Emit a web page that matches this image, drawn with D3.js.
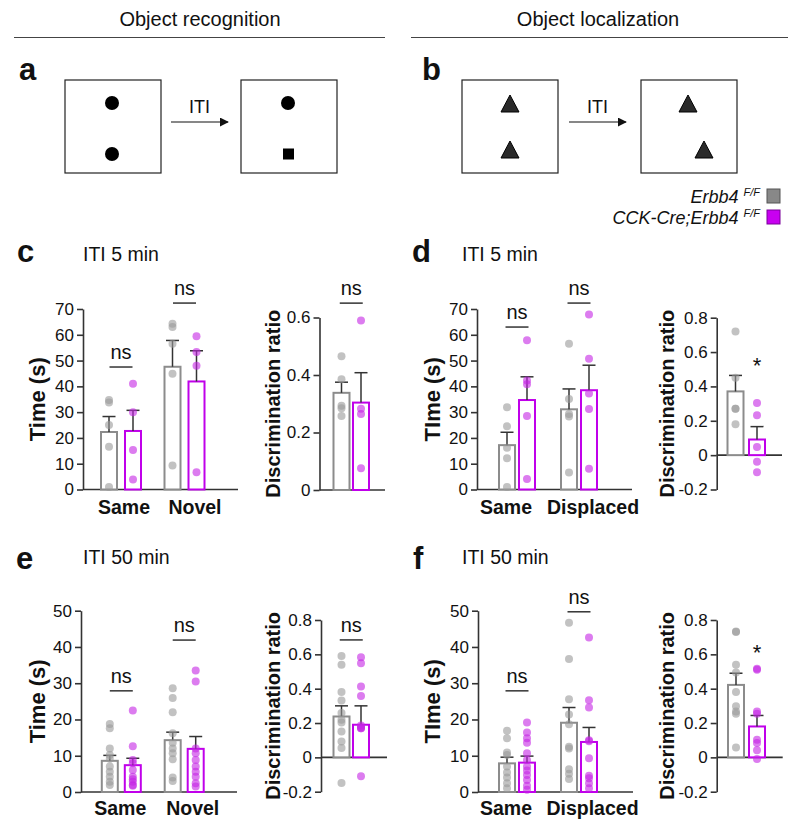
<!DOCTYPE html>
<html>
<head>
<meta charset="utf-8">
<script src="https://cdn.jsdelivr.net/npm/d3@7"></script>
<style>
  body { margin: 0; background: #fff; }
  svg text { font-family: "Liberation Sans", Arial, Helvetica, sans-serif; }
</style>
</head>
<body>
<svg id="fig" width="800" height="830"></svg>
<script>
// ---- data ----
// group order: [Erbb4 F/F (ctrl), CCK-Cre;Erbb4 F/F (cko)]
var catsRecog = ["Same", "Novel"];
var catsLocal = ["Same", "Displaced"];
var legendLabels = ["Erbb4", "CCK-Cre;Erbb4"];

var timeTicks70 = [0, 10, 20, 30, 40, 50, 60, 70];
var timeTicks50 = [0, 10, 20, 30, 40, 50];
var ratioTicks06 = [0, 0.2, 0.4, 0.6];
var ratioTicks08 = [-0.2, 0, 0.2, 0.4, 0.6, 0.8];

// c: object recognition, ITI 5 min
var cTimeCtrl = [[34.7, 33.7, 25, 16.6, 1], [64.3, 63, 56.5, 44.9, 9.3]];
var cTimeCko  = [[41, 30, 15.3, 3.9], [59.4, 53.3, 48, 6.7]];
var cTimeMean = [[22.3, 47.6], [22.7, 41.9]];
var cTimeSem  = [[6.0, 10.2], [8.0, 11.9]];
var cTimeSig  = ["ns", "ns"];
var cTimeSigY = [47.5, 72.3];
var cRatioCtrl = [0.465, 0.385, 0.293, 0.284, 0.257];
var cRatioCko  = [0.59, 0.283, 0.264, 0.076];
var cRatioMean = [0.338, 0.304];
var cRatioSem  = [0.037, 0.104];

// d: object localization, ITI 5 min
var dTimeCtrl = [[31.9, 24.5, 16.2, 12.1, 1], [56.5, 35.1, 29.3, 28.3, 6.6]];
var dTimeCko  = [[57.9, 42.3, 40.8, 28.5, 4.1], [67.9, 50.7, 37.2, 31.2, 8]];
var dTimeMean = [[17.2, 31.1], [34.7, 38.5]];
var dTimeSem  = [[5.0, 7.9], [9.0, 9.7]];
var dTimeSig  = ["ns", "ns"];
var dTimeSigY = [63, 72.3];
var dRatioCtrl = [0.72, 0.45, 0.27, 0.27, 0.18];
var dRatioCko  = [0.303, 0.232, 0.048, -0.039, -0.099];
var dRatioMean = [0.371, 0.091];
var dRatioSem  = [0.093, 0.075];

// e: object recognition, ITI 50 min
var eTimeCtrl = [[18.75, 17.6, 12, 10.2, 9.2, 7, 5.6, 4.2, 2.8, 1.9], [28.6, 25.9, 22, 16.2, 13.6, 12, 10.7, 9, 4, 3]];
var eTimeCko  = [[22.5, 12.6, 8.8, 7.9, 6.1, 4.2, 3.5, 2.8, 1.9, 1.7], [33.5, 30.5, 12, 10.7, 8.8, 7, 5.6, 4.2, 2.4, 1.5]];
var eTimeMean = [[8.6, 14.3], [7.4, 11.9]];
var eTimeSem  = [[1.5, 2.2], [1.9, 3.4]];
var eTimeSig  = ["ns", "ns"];
var eTimeSigY = [27.9, 41.9];
var eRatioCtrl = [0.59, 0.539, 0.38, 0.331, 0.258, 0.219, 0.203, 0.151, 0.093, 0.054, -0.149];
var eRatioCko  = [0.583, 0.548, 0.413, 0.358, 0.186, 0.17, 0.175, 0.17, -0.11];
var eRatioMean = [0.238, 0.19];
var eRatioSem  = [0.062, 0.11];

// f: object localization, ITI 50 min
var fTimeCtrl = [[16.9, 14.8, 10.9, 10.2, 7, 5.4, 4, 2.4, 1], [46.7, 36.7, 25.6, 21.4, 18.7, 12.5, 12, 6.3, 5, 3.6]];
var fTimeCko  = [[19.2, 16.4, 14.8, 13.6, 10.7, 8.8, 7, 5.9, 4.7, 3.3, 1.7, 0.6], [42.6, 25.3, 23.3, 14.3, 14, 9.3, 4.5, 3.8, 2.4, 1]];
var fTimeMean = [[7.9, 19.1], [8.1, 13.8]];
var fTimeSem  = [[1.7, 4.2], [1.8, 4.0]];
var fTimeSig  = ["ns", "ns"];
var fTimeSigY = [27.9, 49.7];
var fRatioCtrl = [0.733, 0.73, 0.539, 0.494, 0.38, 0.297, 0.267, 0.254, 0.058];
var fRatioCko  = [0.516, 0.51, 0.267, 0.254, 0.103, 0.083, 0.041, -0.01];
var fRatioMean = [0.422, 0.18];
var fRatioSem  = [0.068, 0.064];

// ---- styles ----
var barStroke = ["#8c8c8c", "#c000ea"];
var dotFill = ["#9a9a9a", "#c424e4"];
var ink = "#333";
var bw = 16;

var svg = d3.select("#fig");

function fmt(d) { return String(Math.round(d * 10) / 10); }

function styleAxis(sel) {
  sel.select(".domain").attr("stroke", ink).attr("stroke-width", 1.6);
  sel.selectAll(".tick line").attr("stroke", ink).attr("stroke-width", 1.6);
  sel.selectAll(".tick text").attr("font-size", 17).attr("fill", "#111")
    .attr("font-family", '"Liberation Sans", Arial, sans-serif');
}

function drawBars(g, cx, y, mean, sem, pts, k) {
  g.append("rect")
    .attr("x", cx - bw / 2).attr("y", y(mean))
    .attr("width", bw).attr("height", y(0) - y(mean))
    .attr("fill", "#fff").attr("stroke", barStroke[k]).attr("stroke-width", 2);
  g.append("line").attr("x1", cx).attr("x2", cx)
    .attr("y1", y(mean)).attr("y2", y(mean + sem))
    .attr("stroke", ink).attr("stroke-width", 1.5);
  g.append("line").attr("x1", cx - 6.5).attr("x2", cx + 6.5)
    .attr("y1", y(mean + sem)).attr("y2", y(mean + sem))
    .attr("stroke", ink).attr("stroke-width", 1.5);
  g.selectAll(null).data(pts).enter().append("circle")
    .attr("cx", cx).attr("cy", function(d) { return y(d); })
    .attr("r", 4).attr("fill", dotFill[k]).attr("opacity", 0.6);
}

function sigMark(g, cx, yy, txt, half) {
  if (txt === "ns") {
    g.append("line").attr("x1", cx - half).attr("x2", cx + half)
      .attr("y1", yy).attr("y2", yy).attr("stroke", ink).attr("stroke-width", 1.5);
    g.append("text").attr("x", cx).attr("y", yy - 8).attr("text-anchor", "middle")
      .attr("font-size", 20).attr("fill", "#111").text(txt);
  } else {
    g.append("text").attr("x", cx).attr("y", yy + 10).attr("text-anchor", "middle")
      .attr("font-size", 22).attr("fill", "#111").text(txt);
  }
}

function yLabel(g, x, y, txt, size) {
  g.append("text").attr("transform", "translate(" + x + "," + y + ") rotate(-90)")
    .attr("text-anchor", "middle").attr("font-size", size).attr("font-weight", "bold")
    .attr("fill", "#111").text(txt);
}

function drawTime(p) {
  var g = svg.append("g");
  var y = d3.scaleLinear().domain([0, p.ymax]).range([p.yBot, p.yTop]);
  var x = d3.scalePoint().domain(p.cats).range(p.centers);
  g.append("g").attr("transform", "translate(" + p.axisX + ",0)")
    .call(d3.axisLeft(y).tickValues(p.ticks).tickSize(6).tickSizeOuter(0).tickPadding(3).tickFormat(fmt))
    .call(styleAxis);
  g.append("line").attr("x1", p.axisX).attr("x2", p.axisEnd)
    .attr("y1", y(0)).attr("y2", y(0)).attr("stroke", ink).attr("stroke-width", 1.6);
  p.cats.forEach(function(cat, i) {
    [p.ctrl, p.cko].forEach(function(series, k) {
      var cx = x(cat) + (k === 0 ? -p.dx : p.dx);
      drawBars(g, cx, y, p.mean[k][i], p.sem[k][i], series[i], k);
    });
    sigMark(g, x(cat), y(p.sigY[i]), p.sig[i], 11.5);
    g.append("text").attr("x", x(cat) + p.catShift[i]).attr("y", p.catY).attr("text-anchor", "middle")
      .attr("font-size", 19.5).attr("font-weight", "bold").attr("fill", "#111").text(cat);
  });
  yLabel(g, p.labelX, (p.yTop + p.yBot) / 2, p.label, 22);
}

function drawRatio(p) {
  var g = svg.append("g");
  var y = d3.scaleLinear().domain(p.domain).range([p.yBot, p.yTop]);
  g.append("g").attr("transform", "translate(" + p.axisX + ",0)")
    .call(d3.axisLeft(y).tickValues(p.ticks).tickSize(6).tickSizeOuter(0).tickPadding(3).tickFormat(fmt))
    .call(styleAxis);
  g.append("line").attr("x1", p.axisX).attr("x2", p.axisEnd)
    .attr("y1", y(0)).attr("y2", y(0)).attr("stroke", ink).attr("stroke-width", 1.6);
  [p.ctrl, p.cko].forEach(function(series, k) {
    drawBars(g, p.centers[k], y, p.mean[k], p.sem[k], series, k);
  });
  if (p.sig === "ns") sigMark(g, (p.centers[0] + p.centers[1]) / 2, y(p.sigY), "ns", 11.5);
  else sigMark(g, p.centers[1], y(p.sigY), p.sig);
  yLabel(g, p.labelX, (p.yTop + p.yBot) / 2, "Discrimination ratio", 20);
}

// ---- header + schematics ----
var head = svg.append("g");
[["Object recognition", 200, 14, 385], ["Object localization", 598, 411, 788]].forEach(function(h) {
  head.append("text").attr("x", h[1]).attr("y", 26).attr("text-anchor", "middle")
    .attr("font-size", 20).attr("fill", "#111").text(h[0]);
  head.append("line").attr("x1", h[2]).attr("x2", h[3]).attr("y1", 37.5).attr("y2", 37.5)
    .attr("stroke", "#444").attr("stroke-width", 1.2);
});

function letter(t, x, y) {
  svg.append("text").attr("x", x).attr("y", y).attr("font-size", 31)
    .attr("font-weight", "bold").attr("fill", "#111").text(t);
}
letter("a", 19, 80); letter("b", 422, 80);
letter("c", 17, 262); letter("d", 412, 262);
letter("e", 16, 569); letter("f", 413, 569);

function subtitle(t, x, y) {
  svg.append("text").attr("x", x).attr("y", y).attr("font-size", 19.5).attr("fill", "#111").text(t);
}
subtitle("ITI 5 min", 83, 261); subtitle("ITI 5 min", 462, 261);
subtitle("ITI 50 min", 83, 564); subtitle("ITI 50 min", 462, 564);

var defs = svg.append("defs");
defs.append("marker").attr("id", "arr").attr("viewBox", "0 0 10 10")
  .attr("refX", 9).attr("refY", 5).attr("markerWidth", 9).attr("markerHeight", 9)
  .attr("markerUnits", "userSpaceOnUse").attr("orient", "auto")
  .append("path").attr("d", "M0,0L10,5L0,10Z").attr("fill", "#111");

function box(x, y) {
  svg.append("rect").attr("x", x).attr("y", y).attr("width", 96).attr("height", 93)
    .attr("fill", "#fff").attr("stroke", "#222").attr("stroke-width", 1.2);
}
function arrow(x1, x2, yy) {
  svg.append("line").attr("x1", x1).attr("x2", x2).attr("y1", yy).attr("y2", yy)
    .attr("stroke", "#111").attr("stroke-width", 1.2).attr("marker-end", "url(#arr)");
  svg.append("text").attr("x", (x1 + x2) / 2).attr("y", yy - 9).attr("text-anchor", "middle")
    .attr("font-size", 18).attr("fill", "#111").text("ITI");
}
function tri(cx, cy) {
  svg.append("path")
    .attr("d", "M" + cx + "," + (cy - 9) + "L" + (cx + 9) + "," + (cy + 8) + "L" + (cx - 9) + "," + (cy + 8) + "Z")
    .attr("fill", "#2a2a2a").attr("stroke", "#000").attr("stroke-width", 1);
}
box(65, 80); box(241, 80); box(462, 80); box(641, 80);
arrow(171, 228, 122); arrow(569, 626, 122);
svg.append("circle").attr("cx", 112).attr("cy", 103).attr("r", 7).attr("fill", "#000");
svg.append("circle").attr("cx", 112).attr("cy", 154).attr("r", 7).attr("fill", "#000");
svg.append("circle").attr("cx", 288).attr("cy", 103).attr("r", 7).attr("fill", "#000");
svg.append("rect").attr("x", 283).attr("y", 148.5).attr("width", 11).attr("height", 11).attr("fill", "#000");
tri(510, 104); tri(510, 150); tri(688, 104); tri(704, 150);

// legend
var leg = svg.append("g");
legendLabels.forEach(function(t, k) {
  var yy = 203 + k * 21;
  var tx = leg.append("text").attr("x", 760).attr("y", yy).attr("text-anchor", "end")
    .attr("font-size", 18).attr("font-style", "italic").attr("fill", "#111");
  tx.append("tspan").text(t + " ");
  tx.append("tspan").attr("font-size", 11).attr("dy", -7).text("F/F");
  leg.append("rect").attr("x", 767).attr("y", yy - 14).attr("width", 13).attr("height", 14)
    .attr("fill", k === 0 ? "#888" : "#c800f0").attr("stroke", k === 0 ? "#555" : "#7a0099").attr("stroke-width", 1);
});

// ---- panels ----
drawTime({ cats: catsRecog, ymax: 70, ticks: timeTicks70, yTop: 309, yBot: 489.5,
  axisX: 83, axisEnd: 238, centers: [121, 184.5], dx: 12, catY: 514, catShift: [3, 10.5],
  ctrl: cTimeCtrl, cko: cTimeCko, mean: cTimeMean, sem: cTimeSem, sig: cTimeSig, sigY: cTimeSigY,
  label: "Time (s)", labelX: 45 });
drawRatio({ domain: [0, 0.6], ticks: ratioTicks06, yTop: 317.5, yBot: 490,
  axisX: 319.5, axisEnd: 385, centers: [341.5, 361],
  ctrl: cRatioCtrl, cko: cRatioCko, mean: cRatioMean, sem: cRatioSem, sig: "ns", sigY: 0.65, labelX: 280 });

drawTime({ cats: catsLocal, ymax: 70, ticks: timeTicks70, yTop: 309, yBot: 489.5,
  axisX: 477, axisEnd: 632, centers: [517, 579], dx: 10, catY: 514, catShift: [-11, 14],
  ctrl: dTimeCtrl, cko: dTimeCko, mean: dTimeMean, sem: dTimeSem, sig: dTimeSig, sigY: dTimeSigY,
  label: "TIme (s)", labelX: 440 });
drawRatio({ domain: [-0.2, 0.8], ticks: ratioTicks08, yTop: 317.7, yBot: 489.5,
  axisX: 716.7, axisEnd: 782, centers: [735.5, 757],
  ctrl: dRatioCtrl, cko: dRatioCko, mean: dRatioMean, sem: dRatioSem, sig: "*", sigY: 0.536, labelX: 674 });

drawTime({ cats: catsRecog, ymax: 50, ticks: timeTicks50, yTop: 610.7, yBot: 792,
  axisX: 81, axisEnd: 237, centers: [121.3, 184.2], dx: 11.5, catY: 815, catShift: [-1, 8.5],
  ctrl: eTimeCtrl, cko: eTimeCko, mean: eTimeMean, sem: eTimeSem, sig: eTimeSig, sigY: eTimeSigY,
  label: "Time (s)", labelX: 45 });
drawRatio({ domain: [-0.2, 0.8], ticks: ratioTicks08, yTop: 620, yBot: 791.7,
  axisX: 321, axisEnd: 387, centers: [341.5, 361],
  ctrl: eRatioCtrl, cko: eRatioCko, mean: eRatioMean, sem: eRatioSem, sig: "ns", sigY: 0.684, labelX: 280 });

drawTime({ cats: catsLocal, ymax: 50, ticks: timeTicks50, yTop: 610.7, yBot: 792,
  axisX: 478, axisEnd: 633, centers: [517, 579], dx: 10, catY: 815, catShift: [-11, 13.5],
  ctrl: fTimeCtrl, cko: fTimeCko, mean: fTimeMean, sem: fTimeSem, sig: fTimeSig, sigY: fTimeSigY,
  label: "TIme (s)", labelX: 440 });
drawRatio({ domain: [-0.2, 0.8], ticks: ratioTicks08, yTop: 620, yBot: 791.7,
  axisX: 716.7, axisEnd: 782.7, centers: [736, 757],
  ctrl: fRatioCtrl, cko: fRatioCko, mean: fRatioMean, sem: fRatioSem, sig: "*", sigY: 0.625, labelX: 674 });
</script>
</body>
</html>
